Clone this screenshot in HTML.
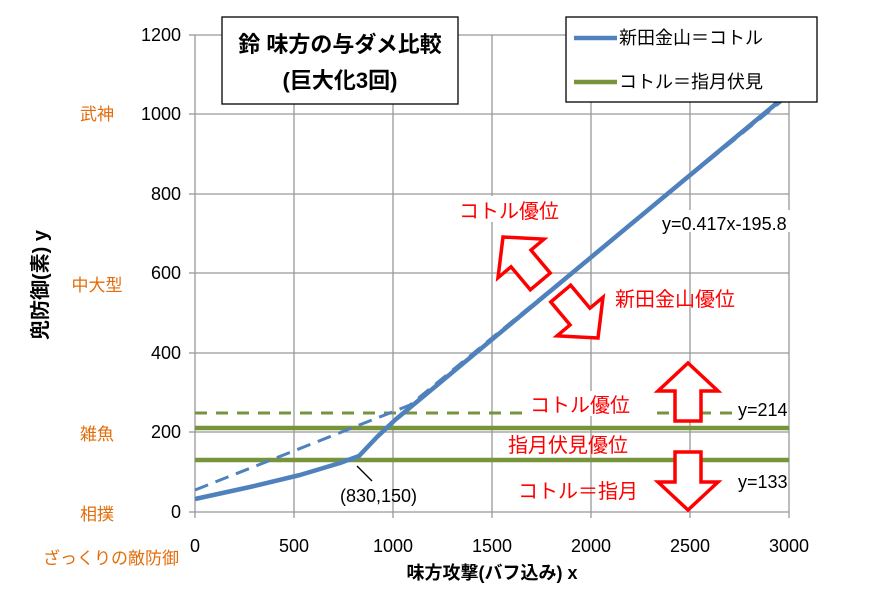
<!DOCTYPE html>
<html><head><meta charset="utf-8"><style>
body{margin:0;background:#fff}
text{font-family:"Liberation Sans","Noto Sans CJK JP",sans-serif}
</style></head><body>
<svg width="879" height="594" xmlns="http://www.w3.org/2000/svg">
<defs>
<polygon id="arr" points="0,0 30,28 13,28 13,58 -13,58 -13,28 -30,28" fill="#fff" stroke="#f00" stroke-width="3.5"/>
</defs>
<g stroke="#999" stroke-width="1.3">
<line x1="195" y1="35" x2="789" y2="35"/><line x1="195" y1="114" x2="789" y2="114"/>
<line x1="195" y1="194" x2="789" y2="194"/><line x1="195" y1="273" x2="789" y2="273"/>
<line x1="195" y1="353" x2="789" y2="353"/><line x1="195" y1="432" x2="789" y2="432"/>
<line x1="195" y1="512" x2="789" y2="512"/>
<line x1="294" y1="35" x2="294" y2="518"/><line x1="393" y1="35" x2="393" y2="518"/>
<line x1="492" y1="35" x2="492" y2="518"/><line x1="591" y1="35" x2="591" y2="518"/>
<line x1="690" y1="35" x2="690" y2="518"/><line x1="789" y1="35" x2="789" y2="518"/>
<line x1="195" y1="35" x2="195" y2="518"/>
<line x1="189" y1="35" x2="195" y2="35"/><line x1="189" y1="114" x2="195" y2="114"/><line x1="189" y1="194" x2="195" y2="194"/><line x1="189" y1="273" x2="195" y2="273"/><line x1="189" y1="353" x2="195" y2="353"/><line x1="189" y1="432" x2="195" y2="432"/><line x1="189" y1="512" x2="195" y2="512"/>
</g>
<line x1="195" y1="413" x2="742" y2="413" stroke="#77933c" stroke-width="3" stroke-dasharray="12,9"/>
<line x1="195" y1="428" x2="789" y2="428" stroke="#77933c" stroke-width="4.5"/>
<line x1="195" y1="460" x2="789" y2="460" stroke="#77933c" stroke-width="4.5"/>
<polyline points="195,490 410,405 789,95" fill="none" stroke="#4f81bd" stroke-width="3" stroke-dasharray="14,8"/>
<polyline points="195,499 250,487 300,475 340,463 359,456 377,437 395,420 789,93" fill="none" stroke="#4f81bd" stroke-width="4.5" stroke-linejoin="round"/>
<line x1="357" y1="466" x2="372" y2="481" stroke="#000" stroke-width="1.3"/>
<text x="340" y="502" font-size="18">(830,150)</text>
<g font-size="18" text-anchor="end">
<text x="181" y="41">1200</text><text x="181" y="120">1000</text><text x="181" y="200">800</text><text x="181" y="279">600</text><text x="181" y="359">400</text><text x="181" y="438">200</text><text x="181" y="518">0</text>
</g>
<g font-size="18" text-anchor="middle">
<text x="195" y="552">0</text><text x="294" y="552">500</text><text x="393" y="552">1000</text><text x="492" y="552">1500</text><text x="591" y="552">2000</text><text x="690" y="552">2500</text><text x="789" y="552">3000</text>
</g>
<g font-size="17" fill="#e36c09" text-anchor="middle">
<text x="97" y="120">武神</text><text x="97" y="291">中大型</text><text x="97" y="440">雑魚</text><text x="97" y="520">相撲</text><text x="111" y="564">ざっくりの敵防御</text>
</g>
<text x="492" y="579" font-size="18" font-weight="bold" text-anchor="middle">味方攻撃(バフ込み) x</text>
<text transform="translate(47,285) rotate(-90)" font-size="20" font-weight="bold" text-anchor="middle">兜防御(素) y</text>
<rect x="222" y="17" width="236" height="87" fill="#fff" stroke="#000" stroke-width="1.3"/>
<text x="340" y="52" font-size="22" font-weight="bold" text-anchor="middle">鈴 味方の与ダメ比較</text>
<text x="340" y="88" font-size="22" font-weight="bold" text-anchor="middle">(巨大化3回)</text>
<rect x="566" y="17" width="251" height="85" fill="#fff" stroke="#000" stroke-width="1.3"/>
<line x1="574" y1="38" x2="617" y2="38" stroke="#4f81bd" stroke-width="4.5"/>
<line x1="574" y1="82" x2="617" y2="82" stroke="#77933c" stroke-width="4.5"/>
<text x="619" y="44" font-size="18">新田金山＝コトル</text>
<text x="619" y="88" font-size="18">コトル＝指月伏見</text>
<use href="#arr" transform="translate(688,363)"/>
<use href="#arr" transform="translate(688,510) rotate(180)"/>
<use href="#arr" transform="translate(503,237) rotate(-40)"/>
<use href="#arr" transform="translate(598,338) rotate(140)"/>
<g font-size="20" fill="#f00">
<rect x="456" y="196" width="134" height="26" fill="#fff"/>
<text x="459" y="218">コトル優位</text>
<text x="615" y="306">新田金山優位</text>
<rect x="528" y="391" width="122" height="25" fill="#fff"/>
<text x="530" y="412">コトル優位</text>
<text x="508" y="452">指月伏見優位</text>
<text x="518" y="498">コトル＝指月</text>
</g>
<g font-size="18">
<rect x="661" y="210" width="165" height="22" fill="#fff"/>
<text x="662" y="230">y=0.417x-195.8</text>
<text x="738" y="416">y=214</text>
<text x="738" y="488">y=133</text>
</g>
</svg>
</body></html>
